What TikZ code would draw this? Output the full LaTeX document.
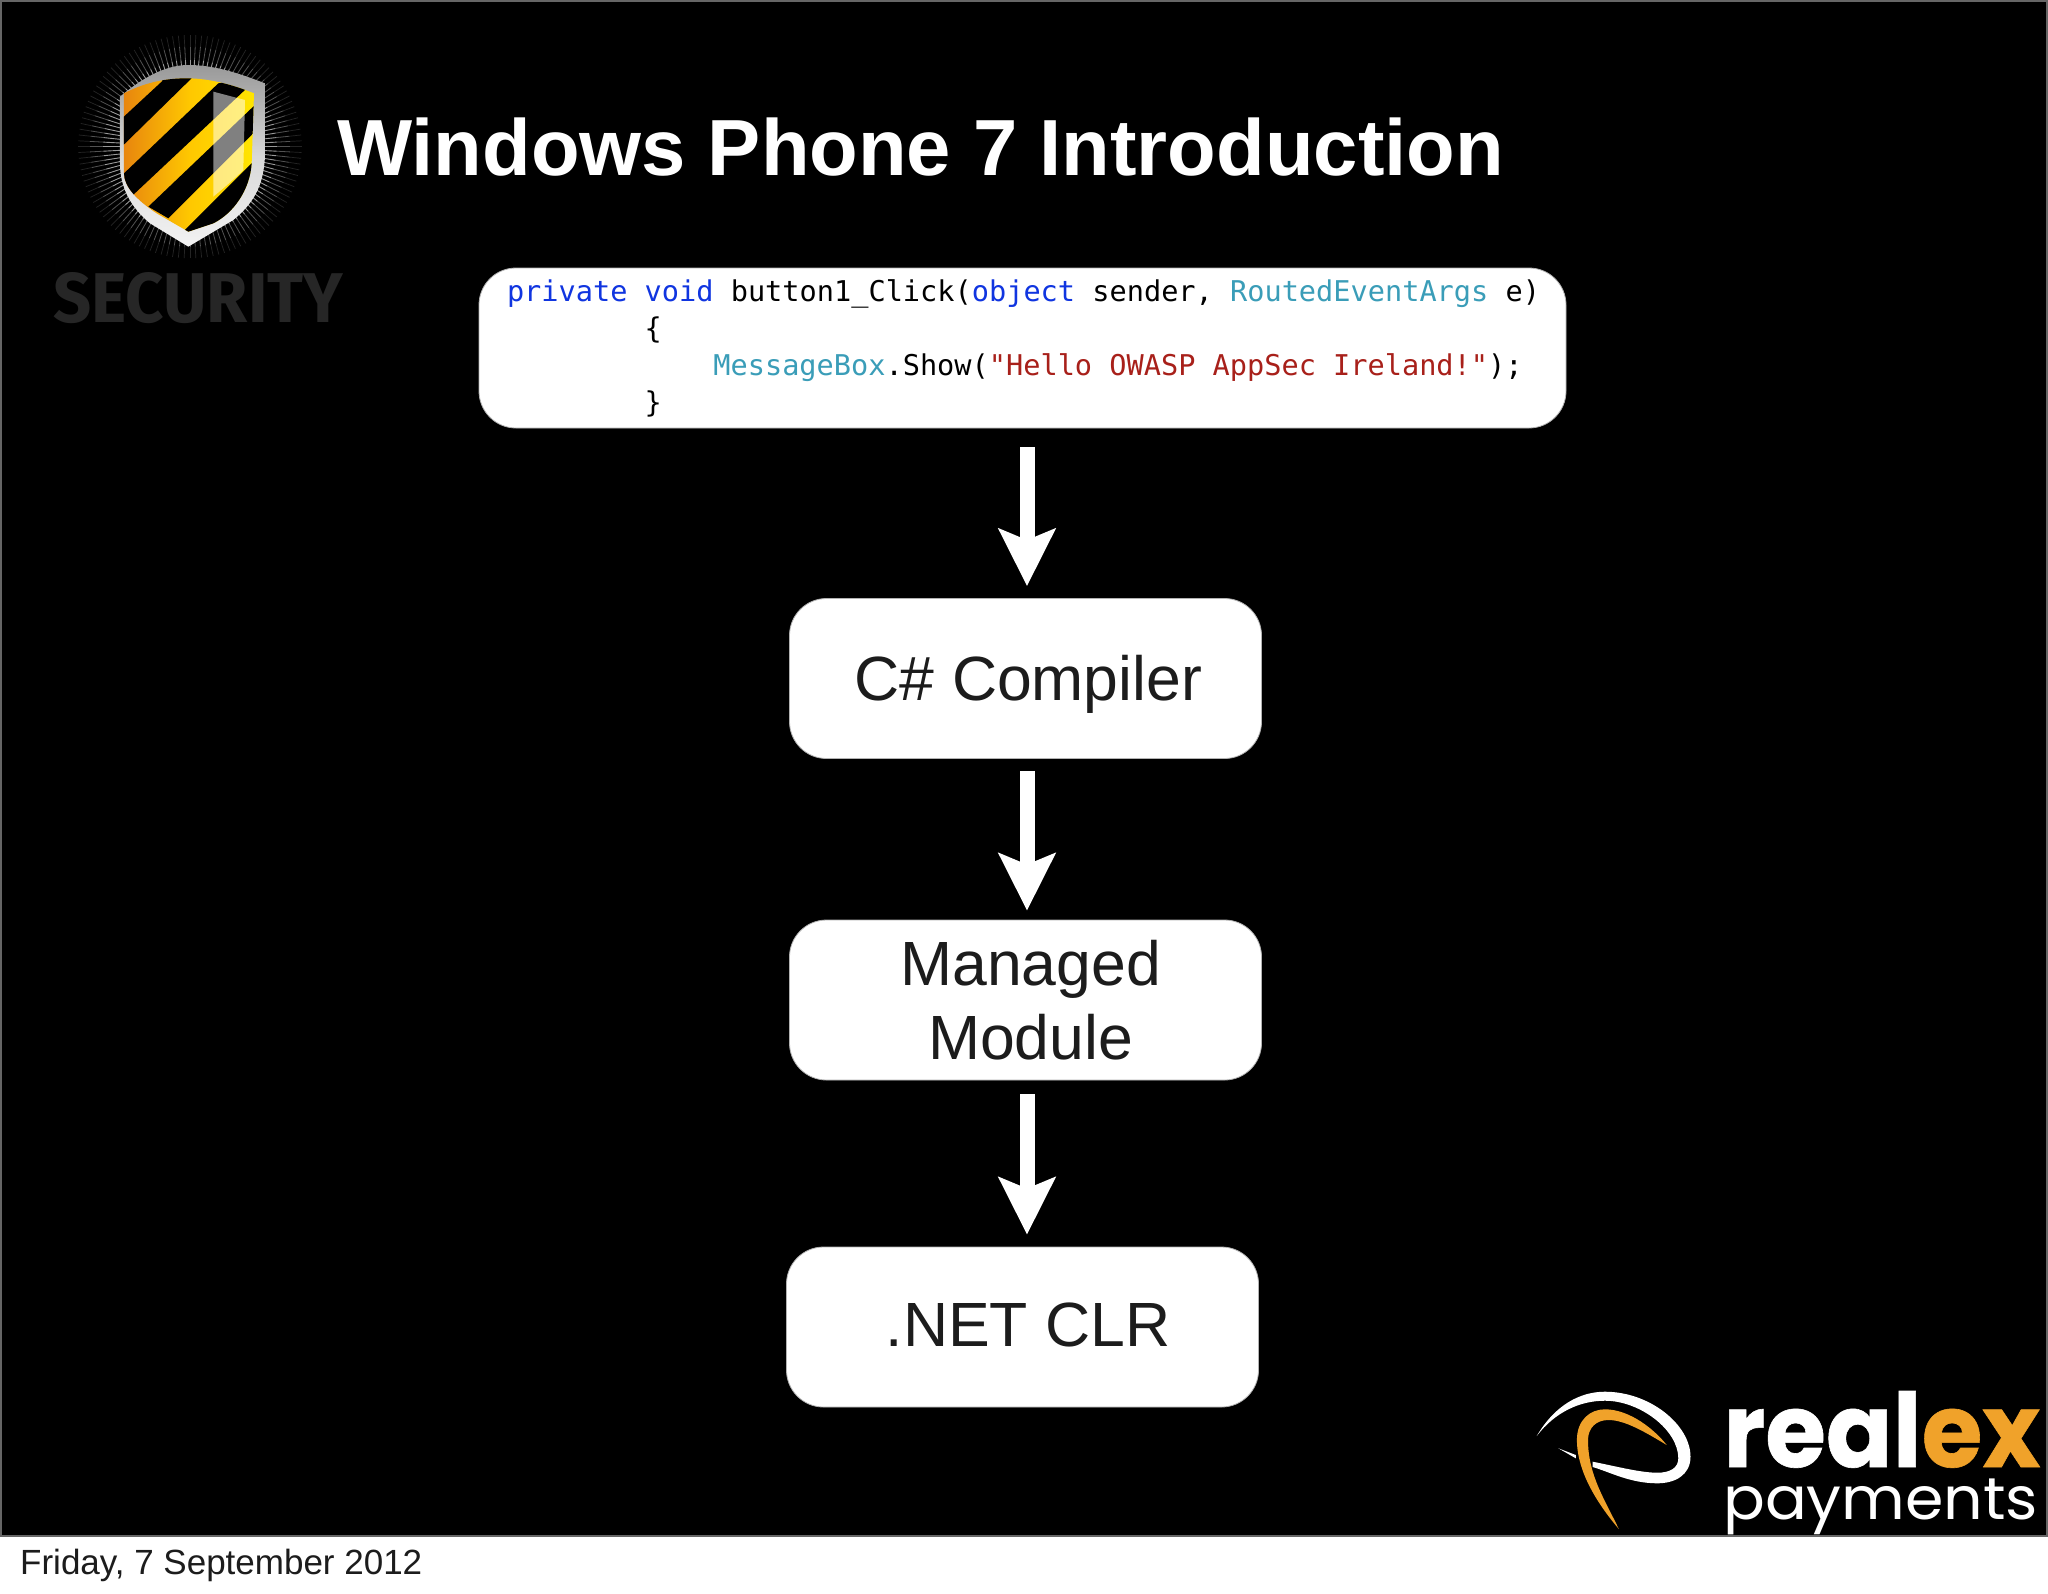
\documentclass[tikz,border=0pt]{standalone}
\usepackage{fontspec}
\setmainfont{Liberation Sans}
\newfontfamily\codefont{DejaVu Sans Mono}
\newfontfamily\secfont{Fira Sans}
\newfontfamily\popfont{Poppins}
\newfontfamily\popheavy[BoldFeatures={FakeBold=0.6}]{Poppins}
\usetikzlibrary{arrows.meta,shadings}
\definecolor{kw}{HTML}{1035E0}
\definecolor{ty}{HTML}{3A9DB8}
\definecolor{st}{HTML}{A8201A}
\definecolor{ink}{HTML}{1C1C1C}
\definecolor{rxorange}{HTML}{F0A22A}
\definecolor{stripeA}{HTML}{E8860E}
\definecolor{stripeB}{HTML}{FFC800}
\definecolor{stripeC}{HTML}{FFE600}
\newcommand{\sz}[1]{\fontsize{#1}{#1}\selectfont}
\newcommand{\ind}[1]{\hspace*{\dimexpr #1\dimexpr 17.2pt\relax\relax}}
\newcommand{\placed}[2]{\raisebox{-#1}[0pt][0pt]{#2}}
\tikzset{
  x=1pt,y=-1pt,
  flowbox/.style={draw=gray!60,line width=0.8pt,fill=white,rounded corners=37pt,minimum width=472pt,minimum height=160pt,inner sep=0pt,text=ink,align=center,font=\sz{62.5}},
  codebox/.style={flowbox,minimum width=1087pt,minimum height=160pt,text width=1031pt,align=left,font=\codefont\sz{28.6}},
  flow/.style={draw=white,line width=15pt,-{Stealth[length=57pt,width=56pt,inset=11pt]}},
  label/.style={inner sep=0pt,anchor=base west}
}
\begin{document}
\begin{tikzpicture}
\useasboundingbox (0,0) rectangle (2048,1593);
\fill[white] (0,0) rectangle (2048,1593);
\filldraw[fill=black,draw=black!60,line width=2.5pt] (1,1) rectangle (2047,1536);

% security logo
\begin{scope}[scale=0.33333]
\foreach \a in {0,3,...,357}{
  \draw[white,opacity=.6,line width=.9pt] (570,440)++(\a:205) -- ++(\a:55);
  \draw[white,opacity=.32,line width=.8pt] (570,440)++(\a:260) -- ++(\a:40);
  \draw[white,opacity=.14,line width=.7pt] (570,440)++(\a:300) -- ++(\a:35);
}
\shade[top color=black!40,bottom color=black!5,middle color=black!15]
  (565,195) .. controls (650,195) and (730,225) .. (795,250) -- (795,470)
  .. controls (790,560) and (760,610) .. (700,660) -- (565,740) -- (450,670)
  .. controls (390,620) and (360,560) .. (360,490) -- (360,290)
  .. controls (420,240) and (490,195) .. (565,195) -- cycle;
\begin{scope}
\clip (560,235) .. controls (630,235) and (700,255) .. (762,280) -- (755,490)
  .. controls (750,570) and (700,640) .. (640,670) -- (565,695) -- (470,640)
  .. controls (410,600) and (372,560) .. (372,520) -- (372,280)
  .. controls (430,250) and (490,235) .. (560,235) -- cycle;
\shade[left color=stripeA,right color=stripeC,middle color=stripeB] (372,220) rectangle (770,710);
\fill[black] (350,370) -- (485,245) -- (500,220) -- (590,220) -- (350,455) -- cycle;
\fill[black] (350,541) -- (655,250) -- (720,240) -- (740,265) -- (380,603) -- cycle;
\fill[black] (445,620) -- (790,291) -- (790,370) -- (505,655) -- cycle;
\fill[black] (555,690) -- (790,455) -- (790,720) -- (555,720) -- cycle;
\end{scope}
\fill[white,opacity=.5] (640,275) -- (735,300) -- (730,510) .. controls (700,540) and (670,565) .. (640,590) -- cycle;
\end{scope}
\node[inner sep=0pt,text=black!85,anchor=base west] (sec) at (53,322) {\resizebox{290pt}{50pt}{\secfont\bfseries SECURITY}};

% title
\node[label,text=white,font=\bfseries\sz{79.6}] (title) at (337,175) {Windows Phone 7 Introduction};

% boxes
\node[codebox] (code) at (1022.5,348) {\raisebox{-1.5pt}{\begin{minipage}{1040pt}\raggedright\baselineskip=37pt\frenchspacing\spaceskip=17.2pt\relax
\color{kw}private void \color{black}button1\_Click(\color{kw}object \color{black}sender, \color{ty}RoutedEventArgs \color{black}e)\\
\ind{8}\color{black}\{\\
\ind{12}\color{ty}MessageBox\color{black}.Show(\color{st}"Hello OWASP AppSec Ireland!"\color{black});\\
\ind{8}\color{black}\}\end{minipage}}};
\node[flowbox] (cs) at (1025.5,678.5) {\hspace*{6pt}\placed{22pt}{C\# Compiler}};
\node[flowbox] (mm) at (1025.5,1000) {\hspace*{10pt}Managed\\[11.5pt]\hspace*{10pt}Module};
\node[flowbox] (clr) at (1022.5,1327) {\hspace*{11pt}\placed{19.5pt}{.NET CLR}};

% arrows
\coordinate (axis) at (1027,0);
\draw[flow,shorten <=19pt,shorten >=12pt] (code.south -| axis) -- (cs.north -| axis);
\draw[flow,shorten <=12pt,shorten >=9pt] (cs.south -| axis) -- (mm.north -| axis);
\draw[flow,shorten <=14pt,shorten >=12pt] (mm.south -| axis) -- (clr.north -| axis);

% realex logo
\fill[white] (1536.7,1436) .. controls (1555,1405) and (1580,1391.7) .. (1604.9,1391.7)
  .. controls (1650,1391.7) and (1690.5,1425) .. (1690.5,1456.7)
  .. controls (1690.5,1475) and (1675,1483.3) .. (1657.3,1483.3)
  .. controls (1630,1483.3) and (1610,1472) .. (1592.6,1467) -- (1592.6,1461.7)
  .. controls (1615,1466) and (1640,1472.7) .. (1657.3,1472.7)
  .. controls (1670,1472.7) and (1678.3,1468) .. (1678.3,1458.3)
  .. controls (1678.3,1430) and (1640,1400.7) .. (1604.9,1400.7)
  .. controls (1580,1400.7) and (1555,1412) .. (1536.7,1436) -- cycle;
\fill[white] (1558.4,1448.3) -- (1575.8,1455) -- (1575.8,1458.3) -- cycle;
\fill[rxorange] (1618.8,1529) .. controls (1590,1495) and (1576.9,1465) .. (1576.9,1440)
  .. controls (1576.9,1420) and (1590,1409.3) .. (1604.9,1409.3)
  .. controls (1630,1409.3) and (1655,1430) .. (1666.7,1445)
  .. controls (1645,1432) and (1625,1420) .. (1608.4,1420)
  .. controls (1596,1420) and (1588,1428) .. (1588,1440)
  .. controls (1588,1475) and (1605,1500) .. (1618.8,1529) -- cycle;
\node[inner sep=0pt,anchor=base west] (rx) at (1723,1467) {\resizebox{317pt}{76pt}{\popheavy\bfseries\color{white}real\color{rxorange}ex}};
\node[inner sep=0pt,anchor=base west,text=white] (pay) at (1723,1519) {\resizebox*{315pt}{56pt}{\popfont payments}};

% date
\node[label,text=ink,font=\sz{35}] (date) at (20,1574.5) {Friday, 7 September 2012};
\end{tikzpicture}
\end{document}
